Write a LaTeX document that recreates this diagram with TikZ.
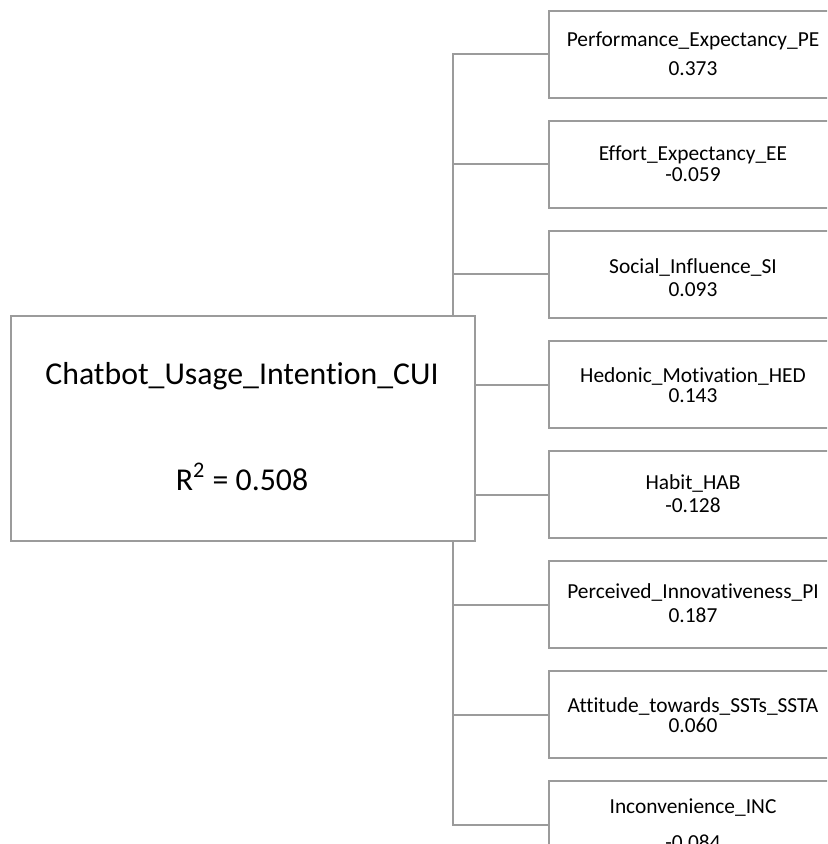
\documentclass[tikz,border=0pt]{standalone}
\usepackage{fontspec}
\setmainfont{Carlito}[Ligatures=NoCommon]
\definecolor{linegray}{RGB}{155,155,155}

\begin{document}
\begin{tikzpicture}[x=0.5pt, y=-0.5pt,
	box/.style={rectangle, draw=linegray, line width=1pt, anchor=north west, minimum width=145pt, minimum height=43.5pt, inner sep=0pt},
	mainbox/.style={box, minimum width=232pt, minimum height=112.5pt},
	txt/.style={anchor=base, inner sep=0pt, font=\fontsize{10.7}{12}\selectfont},
	bigtxt/.style={anchor=base, inner sep=0pt, font=\fontsize{15.9}{18}\selectfont},
	conn/.style={draw=linegray, line width=1pt}]
			\clip (0,0) rectangle (827,844);
			
			\node[mainbox] (cui) at (10,315){};
			\node[bigtxt] (cui-name) at (242,384){Chatbot\_Usage\_Intention\_CUI};
			\node[bigtxt] (cui-r2) at (242,490){R\textsuperscript{2} = 0.508};
			
			\node[box] (pe) at (548,10){};
			\node[box] (ee) at (548,120){};
			\node[box] (si) at (548,230){};
			\node[box] (hed) at (548,340){};
			\node[box] (hab) at (548,450){};
			\node[box] (pi) at (548,560){};
			\node[box] (ssta) at (548,670){};
			\node[box] (inc) at (548,780){};
			
			\node[txt] (pe-name) at (693,47){Performance\_Expectancy\_PE};
			\node[txt] (pe-val) at (693,76){0.373};
			\node[txt] (ee-name) at (693,161){Effort\_Expectancy\_EE};
			\node[txt] (ee-val) at (693,182){-0.059};
			\node[txt] (si-name) at (693,274){Social\_Influence\_SI};
			\node[txt] (si-val) at (693,296){0.093};
			\node[txt] (hed-name) at (693,382){Hedonic\_Motivation\_HED};
			\node[txt] (hed-val) at (693,402){0.143};
			\node[txt] (hab-name) at (693,489){Habit\_HAB};
			\node[txt] (hab-val) at (693,512){-0.128};
			\node[txt] (pi-name) at (693,598){Perceived\_Innovativeness\_PI};
			\node[txt] (pi-val) at (693,622){0.187};
			\node[txt] (ssta-name) at (693,712){Attitude\_towards\_SSTs\_SSTA};
			\node[txt] (ssta-val) at (693,732){0.060};
			\node[txt] (inc-name) at (693,813){Inconvenience\_INC};
			\node[txt] (inc-val) at (693,849){-0.084};
			
			\coordinate (jt) at (453,315);
			\coordinate (jb) at (453,540);
			
			\path[conn] (pe.west) -| (jt);
			\path[conn] (ee.west) -| (jt);
			\path[conn] (si.west) -| (jt);
			\path[conn] (hed.west) -- (hed.west -| cui.east);
			\path[conn] (hab.west) -- (hab.west -| cui.east);
			\path[conn] (pi.west) -| (jb);
			\path[conn] (ssta.west) -| (jb);
			\path[conn] (inc.west) -| (jb);
			\end{tikzpicture}
\end{document}
